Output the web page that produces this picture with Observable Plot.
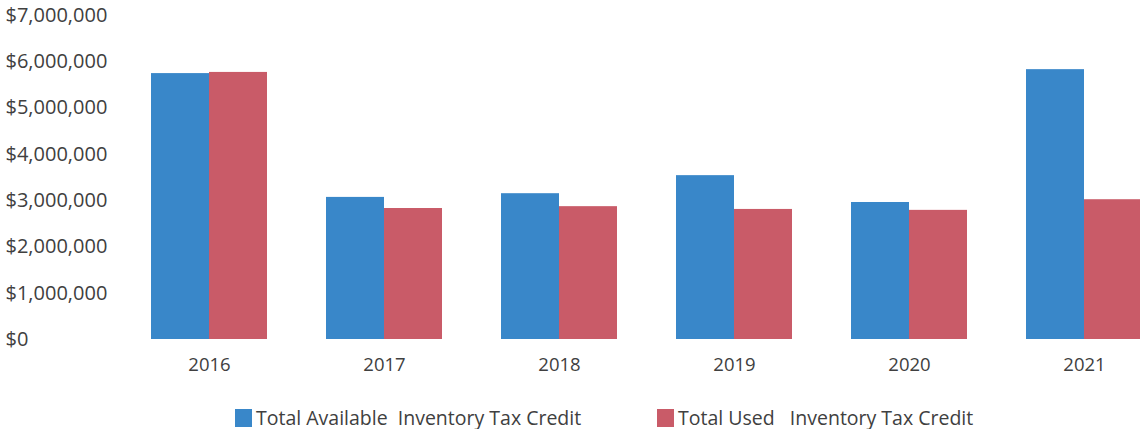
<!DOCTYPE html>
<html>
<head>
<meta charset="utf-8">
<script src="https://cdn.jsdelivr.net/npm/d3@7"></script>
<script src="https://cdn.jsdelivr.net/npm/@observablehq/plot@0.6"></script>
<style>
  body { margin: 0; background: #fff; font-family: "Open Sans", sans-serif; overflow: hidden; }
  #legend { display: flex; margin-top: 27px; padding-left: 235px; font-size: 19.5px; color: #404040; white-space: pre; line-height: 22px; height: 22px; align-items: center; }
  .sw { display: inline-block; width: 17px; height: 18px; margin-right: 4px; }
  .item { display: flex; align-items: center; }
  .item.first { width: 422px; }
</style>
</head>
<body>
<div id="chart"></div>
<div id="legend"></div>
<script>
const years = ["2016", "2017", "2018", "2019", "2020", "2021"];
const seriesNames = ["Total Available  Inventory Tax Credit", "Total Used   Inventory Tax Credit"];
const available = [5745000, 3070000, 3150000, 3540000, 2960000, 5830000];
const used = [5770000, 2830000, 2870000, 2810000, 2790000, 3020000];
const yTicks = [0, 1000000, 2000000, 3000000, 4000000, 5000000, 6000000, 7000000];
const colors = ["#3987c9", "#c95b68"];

const dataA = years.map((y, i) => ({year: y, value: available[i]}));
const dataU = years.map((y, i) => ({year: y, value: used[i]}));
const fmt = d => "$" + d3.format(",")(d);

const chart = Plot.plot({
  width: 1140,
  height: 380,
  marginLeft: 121.5,
  marginRight: -31.5,
  marginTop: 15,
  marginBottom: 41,
  style: {fontFamily: "Open Sans, sans-serif", fontSize: "18px", color: "#404040", background: "#fff"},
  x: {domain: years, paddingInner: 0.337, paddingOuter: 0.1685, label: null},
  y: {domain: [0, 7000000], label: null},
  marks: [
    Plot.barY(dataA, {x: "year", y: "value", fill: colors[0], insetRight: 58}),
    Plot.barY(dataU, {x: "year", y: "value", fill: colors[1], insetLeft: 58}),
    Plot.axisX({tickSize: 0, tickPadding: 18, fontSize: 18.5, fill: "#404040"}),
    Plot.axisY({ticks: yTicks, tickFormat: fmt, tickSize: 0, tickPadding: 0, textAnchor: "start", dx: -116.5, fontSize: 20, fill: "#404040", label: null})
  ]
});
document.getElementById("chart").appendChild(chart);

const legend = document.getElementById("legend");
seriesNames.forEach((name, i) => {
  const item = document.createElement("div");
  item.className = i === 0 ? "item first" : "item";
  const sw = document.createElement("span");
  sw.className = "sw";
  sw.style.background = colors[i];
  const t = document.createElement("span");
  t.textContent = name;
  item.appendChild(sw);
  item.appendChild(t);
  legend.appendChild(item);
});
</script>
</body>
</html>
